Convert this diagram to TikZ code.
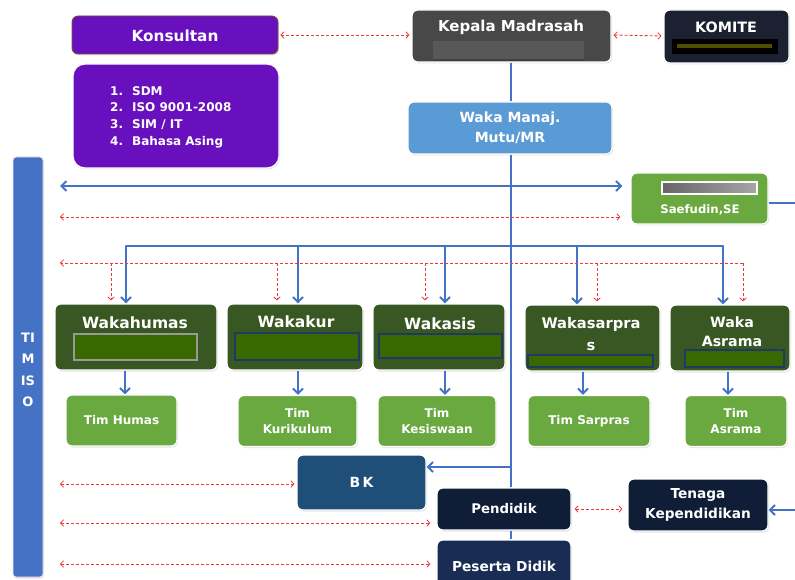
\documentclass[tikz,border=0pt]{standalone}
\usepackage{fontspec}
\setmainfont{DejaVu Sans}
\usetikzlibrary{arrows.meta,shadows}

\definecolor{konsul}{RGB}{104,16,190}
\definecolor{konsulrim}{RGB}{120,80,40}
\definecolor{kepala}{RGB}{72,72,72}
\definecolor{kepalastrip}{RGB}{88,88,88}
\definecolor{komite}{RGB}{27,33,48}
\definecolor{komiteline}{RGB}{78,78,0}
\definecolor{mutu}{RGB}{91,155,213}
\definecolor{isoblue}{RGB}{68,114,196}
\definecolor{lightgreen}{RGB}{106,168,64}
\definecolor{wakagreen}{RGB}{56,87,35}
\definecolor{fieldgreen}{RGB}{56,104,0}
\definecolor{fieldnavy}{RGB}{31,56,100}
\definecolor{bkblue}{RGB}{31,78,121}
\definecolor{darknavy}{RGB}{15,29,54}
\definecolor{pesnavy}{RGB}{24,44,84}
\definecolor{linkblue}{RGB}{68,114,196}
\definecolor{linkred}{RGB}{240,55,60}

\begin{document}
\begin{tikzpicture}[x=1pt,y=-1pt,
  box/.style={rounded corners=6pt, draw=white, line width=1.2pt, text=white,
    align=center, inner sep=2pt,
    drop shadow={shadow xshift=1pt, shadow yshift=-1.5pt, opacity=0.22}},
  title/.style={text=white, align=center, inner sep=0pt,
    font=\bfseries\fontsize{15}{17}\selectfont},
  wakatitle/.style={title, font=\bfseries\fontsize{15.5}{19}\selectfont},
  teamtxt/.style={font=\bfseries\fontsize{12}{16.5}\selectfont},
  field/.style={fill=fieldgreen, draw=fieldnavy, line width=2.4pt},
  bluelink/.style={draw=linkblue, line width=2.4pt},
  bluearrow/.style={bluelink, -{Straight Barb[length=5pt,width=10pt,line width=2pt]}},
  bluebiarrow/.style={bluelink, {Straight Barb[length=5pt,width=10pt,line width=2pt]}-{Straight Barb[length=5pt,width=10pt,line width=2pt]}},
  reddash/.style={draw=linkred, line width=0.9pt, dash pattern=on 3pt off 2pt},
  redarrow/.style={reddash, -{Straight Barb[length=3pt,width=6.5pt,line width=0.8pt]}},
  redbiarrow/.style={reddash, {Straight Barb[length=3pt,width=6.5pt,line width=0.8pt]}-{Straight Barb[length=3pt,width=6.5pt,line width=0.8pt]}},
]
\useasboundingbox (0,0) rectangle (795,580);
\fill[white] (0,0) rectangle (795,580);

% ---------- top row ----------
\node[box, fill=konsul, draw=konsulrim, line width=0.8pt, minimum width=206pt, minimum height=38pt]
  (konsul) at (175,35) {};
\node[title, font=\bfseries\fontsize{15.3}{17}\selectfont] (konsulT) at (175,36) {Konsultan};

\node[box, fill=konsul, rounded corners=12pt, minimum width=206pt, minimum height=104pt]
  (konsulList) at (176,116) {};
\node[anchor=west, text=white, inner sep=0pt, font=\bfseries\fontsize{12}{16.8}\selectfont]
  (konsulListT) at (110,117)
  {\begin{tabular}{@{}l@{\hspace{9pt}}l@{}}1. & SDM\\ 2. & ISO 9001-2008\\ 3. & SIM / IT\\ 4. & Bahasa Asing\end{tabular}};

\node[box, fill=kepala, minimum width=199pt, minimum height=52pt] (kepala) at (511.5,36) {};
\node[title] (kepalaT) at (511,27) {Kepala Madrasah};
\fill[kepalastrip] (433,41) rectangle (584,61);
\fill[black!75] (433,59) rectangle (584,61.5);

\node[box, fill=komite, minimum width=125pt, minimum height=53pt] (komite) at (726.5,36.5) {};
\node[title, font=\bfseries\fontsize{14.3}{16}\selectfont] (komiteT) at (726,27) {KOMITE};
\fill[black] (672,39) rectangle (778,54);
\fill[komiteline] (677,44) rectangle (772,48.5);

\node[box, fill=mutu, minimum width=204pt, minimum height=52pt,
  font=\bfseries\fontsize{14}{20}\selectfont] (mutu) at (510,128) {Waka Manaj.\\Mutu/MR};

% ---------- TIM ISO bar ----------
\node[box, fill=isoblue, rounded corners=3pt, draw=white!90!red, line width=0.8pt,
  minimum width=30pt, minimum height=420pt] (iso) at (28,367) {};
\node[title, font=\bfseries\fontsize{13}{21.3}\selectfont] (isoT) at (28,370) {TI\\M\\IS\\O};

% ---------- Saefudin ----------
\node[box, fill=lightgreen, minimum width=137pt, minimum height=51pt] (saef) at (699.5,198.5) {};
\shade[left color=black!60, right color=black!35, draw=white, line width=1.3pt]
  (662,182) rectangle (757,194);
\node[title, font=\bfseries\fontsize{11.7}{13}\selectfont] (saefT) at (700,210) {Saefudin,SE};

% ---------- waka row ----------
\node[box, fill=wakagreen, minimum width=162pt, minimum height=66pt] (humas) at (136,337) {};
\node[wakatitle] (humasT) at (135,323) {Wakahumas};
\fill[fieldgreen] (74,334) rectangle (197,360);
\draw[black!40, line width=1.6pt] (74,334) rectangle (197,360);

\node[box, fill=wakagreen, minimum width=136pt, minimum height=66pt] (kur) at (295,337) {};
\node[wakatitle] (kurT) at (296,322) {Wakakur};
\draw[field] (235,333) rectangle (359,360);

\node[box, fill=wakagreen, minimum width=132pt, minimum height=66pt] (sis) at (439,337) {};
\node[wakatitle] (sisT) at (440,324) {Wakasis};
\draw[field] (379,334) rectangle (502,358);

\node[box, fill=wakagreen, minimum width=135pt, minimum height=66pt] (sarpras) at (592.5,338) {};
\node[wakatitle, font=\bfseries\fontsize{14.7}{22}\selectfont] (sarprasT) at (591,334) {Wakasarpra\\s};
\draw[field] (528,355) rectangle (653,367);

\node[box, fill=wakagreen, minimum width=120pt, minimum height=66pt] (asrama) at (730,338) {};
\node[wakatitle, font=\bfseries\fontsize{14.2}{19}\selectfont] (asramaT) at (732,332) {Waka\\Asrama};
\draw[field] (685,350) rectangle (784,367);

% ---------- teams ----------
\node[box, fill=lightgreen, teamtxt, minimum width=111pt, minimum height=51pt] (thumas) at (121.5,420.5) {Tim Humas};
\node[box, fill=lightgreen, teamtxt, minimum width=119pt, minimum height=51pt] (tkur) at (297.5,421) {Tim\\Kurikulum};
\node[box, fill=lightgreen, teamtxt, minimum width=118pt, minimum height=51pt] (tkes) at (437,421) {Tim\\Kesiswaan};
\node[box, fill=lightgreen, teamtxt, minimum width=122pt, minimum height=51pt] (tsar) at (589,421) {Tim Sarpras};
\node[box, fill=lightgreen, teamtxt, minimum width=102pt, minimum height=51pt] (tasr) at (736,421) {Tim\\Asrama};

% ---------- lower units ----------
\node[box, fill=bkblue, minimum width=129pt, minimum height=55pt,
  font=\bfseries\fontsize{14}{16}\selectfont] (bk) at (361.5,482.5) {B\,K};
\node[box, fill=darknavy, minimum width=134pt, minimum height=42pt,
  font=\bfseries\fontsize{13.3}{16}\selectfont] (pendidik) at (504,509) {Pendidik};
\node[box, fill=darknavy, minimum width=140pt, minimum height=52pt,
  font=\bfseries\fontsize{13.7}{20}\selectfont] (tenaga) at (698,505) {Tenaga\\Kependidikan};
\node[box, fill=pesnavy, minimum width=134pt, minimum height=46pt] (peserta) at (504,563) {};
\node[title, font=\bfseries\fontsize{13.7}{16}\selectfont] (pesertaT) at (504,566) {Peserta Didik};

% ---------- spine ----------
\coordinate (spine) at (511,0);
\draw[bluelink, line width=2pt] (spine |- kepala.south) -- (spine |- mutu.north);
\draw[bluelink, line width=2pt] (spine |- mutu.south) -- (spine |- pendidik.north);
\draw[bluelink, line width=2pt] (spine |- pendidik.south) -- (spine |- peserta.north);

% ---------- distribution bus ----------
\coordinate (b1) at (126,246);
\coordinate (b2) at (298,246);
\coordinate (b3) at (445,246);
\coordinate (b4) at (577,246);
\coordinate (b5) at (723,246);
\draw[bluelink, line cap=round] (b1) -- (b5);
\draw[bluearrow] (b1) -- (b1 |- humas.north);
\draw[bluearrow] (b2) -- (b2 |- kur.north);
\draw[bluearrow] (b3) -- (b3 |- sis.north);
\draw[bluearrow] (b4) -- (b4 |- sarpras.north);
\draw[bluearrow] (b5) -- (b5 |- asrama.north);

% ---------- coordination line ----------
\coordinate (r0) at (60,263);
\coordinate (r1) at (111,263);
\coordinate (r2) at (277,263);
\coordinate (r3) at (425,263);
\coordinate (r4) at (597,263);
\coordinate (r5) at (743,263);
\draw[redarrow] (r5) -- (r0);
\draw[redarrow, shorten >=3pt] (r1) -- (r1 |- humas.north);
\draw[redarrow, shorten >=3pt] (r2) -- (r2 |- kur.north);
\draw[redarrow, shorten >=3pt] (r3) -- (r3 |- sis.north);
\draw[redarrow, shorten >=3pt] (r4) -- (r4 |- sarpras.north);
\draw[redarrow, shorten >=3pt] (r5) -- (r5 |- asrama.north);

% ---------- waka to teams ----------
\coordinate (t1) at (125,0);
\coordinate (t2) at (298,0);
\coordinate (t3) at (445,0);
\coordinate (t4) at (583,0);
\coordinate (t5) at (728,0);
\draw[bluearrow] (t1 |- humas.south) -- (t1 |- thumas.north);
\draw[bluearrow] (t2 |- kur.south) -- (t2 |- tkur.north);
\draw[bluearrow] (t3 |- sis.south) -- (t3 |- tkes.north);
\draw[bluearrow] (t4 |- sarpras.south) -- (t4 |- tsar.north);
\draw[bluearrow] (t5 |- asrama.south) -- (t5 |- tasr.north);

% ---------- top links ----------
\draw[redbiarrow, shorten <=2pt, shorten >=2pt] (konsul.east) -- (konsul.east -| kepala.west);
\draw[redbiarrow, shorten <=2pt, shorten >=2pt] (kepala.east |- konsul.east) -- (kepala.east -| komite.west);

% ---------- links to TIM ISO ----------
\coordinate (iso1) at (60,186);
\coordinate (iso2) at (60,217);
\coordinate (iso3) at (60,484);
\coordinate (iso4) at (60,523);
\coordinate (iso5) at (60,564);
\draw[bluebiarrow, line width=2pt, shorten >=8pt] (iso1) -- (iso1 -| saef.west);
\draw[redbiarrow, shorten >=10pt] (iso2) -- (iso2 -| saef.west);
\draw[redbiarrow, shorten >=2pt] (iso3) -- (iso3 -| bk.west);
\draw[redbiarrow, shorten >=6pt] (iso4) -- (iso4 -| pendidik.west);
\draw[redbiarrow, shorten >=6pt] (iso5) -- (iso5 -| peserta.west);

% ---------- staff links ----------
\draw[bluearrow, line width=2pt] (spine |- 0,467) -- (bk.east |- 0,467);
\draw[redbiarrow, shorten <=3pt, shorten >=5pt] (pendidik.east) -- (pendidik.east -| tenaga.west);
\coordinate (edgeA) at (795,203);
\coordinate (edgeB) at (795,510);
\draw[bluelink, line width=2pt] (saef.east |- edgeA) -- (edgeA);
\draw[bluearrow, line width=2pt] (edgeB) -- (edgeB -| tenaga.east);
\end{tikzpicture}
\end{document}
